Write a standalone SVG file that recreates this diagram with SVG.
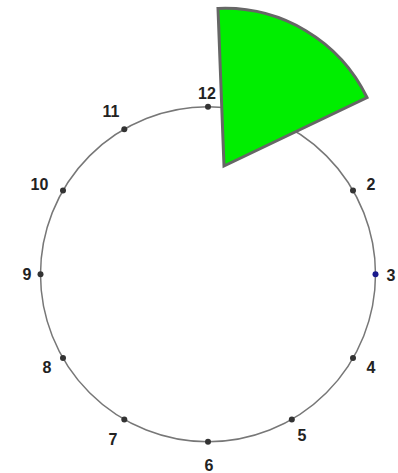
<svg xmlns="http://www.w3.org/2000/svg" width="398" height="473" viewBox="0 0 398 473">
<style>
.lbl{font-family:"Liberation Sans",Arial,sans-serif;font-size:16px;font-weight:bold;fill:#222;text-anchor:middle}
.dot{fill:#333}
</style>
<rect width="398" height="473" fill="#fff"/>
<g id="clock">
<circle cx="208" cy="274.3" r="167.5" fill="none" stroke="#777" stroke-width="1.5"/>
</g>
<g id="ticks">
<circle class="dot" cx="208" cy="106.8" r="3"/>
<circle class="dot" cx="291.8" cy="129.2" r="3"/>
<circle class="dot" cx="353" cy="190.5" r="3"/>
<circle cx="375.5" cy="274.3" r="3" fill="#1a1a8c"/>
<circle class="dot" cx="353" cy="358.1" r="3"/>
<circle class="dot" cx="291.8" cy="419.4" r="3"/>
<circle class="dot" cx="208" cy="441.8" r="3"/>
<circle class="dot" cx="124.3" cy="419.4" r="3"/>
<circle class="dot" cx="63" cy="358.1" r="3"/>
<circle class="dot" cx="40.5" cy="274.3" r="3"/>
<circle class="dot" cx="63" cy="190.5" r="3"/>
<circle class="dot" cx="124.3" cy="129.2" r="3"/>
</g>
<g id="labels">
<text class="lbl" x="207" y="99">12</text>
<text class="lbl" x="371" y="190">2</text>
<text class="lbl" x="391" y="281">3</text>
<text class="lbl" x="371" y="373">4</text>
<text class="lbl" x="302" y="441">5</text>
<text class="lbl" x="209" y="471">6</text>
<text class="lbl" x="113" y="445">7</text>
<text class="lbl" x="47" y="373">8</text>
<text class="lbl" x="27" y="280">9</text>
<text class="lbl" x="39.5" y="190">10</text>
<text class="lbl" x="111" y="117">11</text>
</g>
<g id="sector">
<path d="M224,166 L218,8.5 A158,158 0 0 1 367,97.5 Z" fill="#00ee00" stroke="#666" stroke-width="3" stroke-linejoin="miter"/>
</g>
</svg>
